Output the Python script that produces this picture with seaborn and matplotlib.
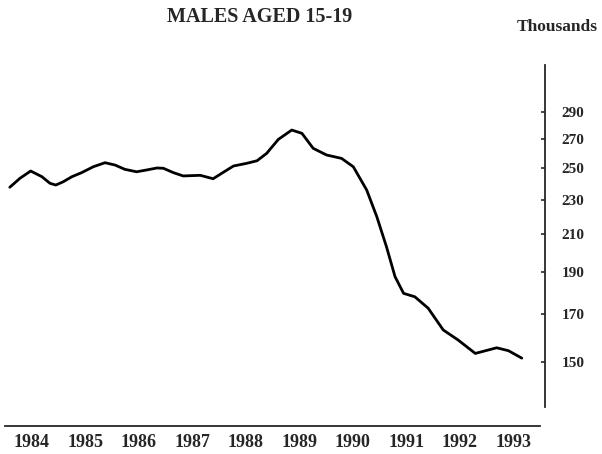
import numpy as np
import pandas as pd
import matplotlib
matplotlib.use('Agg')
import matplotlib.pyplot as plt
import matplotlib.ticker as mticker
import seaborn as sns

# values (thousands, log scale)
years = [1984.09, 1984.28, 1984.48, 1984.69, 1984.84, 1984.95, 1985.09, 1985.25,
         1985.43, 1985.65, 1985.87, 1986.06, 1986.24, 1986.46, 1986.65, 1986.84,
         1986.96, 1987.15, 1987.33, 1987.65, 1987.89, 1988.05, 1988.27, 1988.52,
         1988.71, 1988.89, 1989.11, 1989.36, 1989.55, 1989.76, 1990.01, 1990.29,
         1990.51, 1990.76, 1990.95, 1991.13, 1991.29, 1991.45, 1991.66, 1991.91,
         1992.19, 1992.47, 1992.79, 1993.19, 1993.41, 1993.66]
males = [237.6, 243.3, 248.0, 244.3, 240.1, 239.0, 241.1, 244.3,
         246.9, 250.8, 253.5, 251.9, 249.1, 247.5, 248.7, 250.0,
         249.8, 246.9, 244.8, 245.2, 243.0, 246.5, 251.3, 253.1,
         254.8, 259.8, 269.6, 276.3, 273.9, 263.3, 258.7, 256.4,
         250.8, 235.9, 219.8, 203.1, 187.7, 179.6, 178.0, 172.7,
         163.1, 158.8, 153.3, 155.6, 154.4, 151.4]

year_ticks = list(range(1984, 1995))
year_labels = [str(y) for y in range(1984, 1994)]
y_ticks = [150, 170, 190, 210, 230, 250, 270, 290]

df = pd.DataFrame({'Year': years, 'Thousands': males})

sns.set_style('white')
plt.rcParams['font.family'] = ['Liberation Serif', 'DejaVu Serif']

fig = plt.figure(figsize=(6.02, 4.54), dpi=100)
ax = fig.add_axes([5 / 602, 1 - 407 / 454, 540 / 602, (407 - 65) / 454])

sns.lineplot(data=df, x='Year', y='Thousands', ax=ax, color='black',
             linewidth=2.0, solid_joinstyle='round', solid_capstyle='round')

ax.set_yscale('log')
ax.set_xlim(1984, 1994.093)
ax.set_ylim(133.1, 328.0)

# spines: right axis only, bottom axis detached below
for side in ['left', 'top']:
    ax.spines[side].set_visible(False)
ax.spines['right'].set_linewidth(1.3)
ax.spines['bottom'].set_linewidth(1.3)
ax.spines['bottom'].set_position(('outward', 13.5))
ax.spines['bottom'].set_bounds(1984, 1994)

ax.yaxis.tick_right()
ax.yaxis.set_major_locator(mticker.FixedLocator(y_ticks))
ax.yaxis.set_major_formatter(mticker.FixedFormatter([str(v) for v in y_ticks]))
ax.yaxis.set_minor_locator(mticker.NullLocator())
ax.tick_params(axis='y', which='major', direction='in', length=3, width=1.2,
               pad=12, labelsize=11)
for lbl in ax.get_yticklabels():
    lbl.set_fontweight('bold')

ax.set_xticks(year_ticks)
ax.set_xticklabels([])
ax.set_xticks([y + 0.5 for y in range(1984, 1994)], minor=True)
ax.set_xticklabels(year_labels, minor=True, fontweight='bold', fontsize=13)
ax.tick_params(axis='x', which='major', direction='in', length=3, width=1.2)
ax.tick_params(axis='x', which='minor', length=0, pad=6)

ax.set_xlabel('')
ax.set_ylabel('')

fig.text(260 / 602, 1 - 17 / 454, 'MALES AGED 15-19', ha='center', va='center',
         fontsize=14.5, fontweight='bold')
fig.text(557 / 602, 1 - 27 / 454, 'Thousands', ha='center', va='center',
         fontsize=12.5, fontweight='bold')

fig.savefig('out.png', dpi=100)
